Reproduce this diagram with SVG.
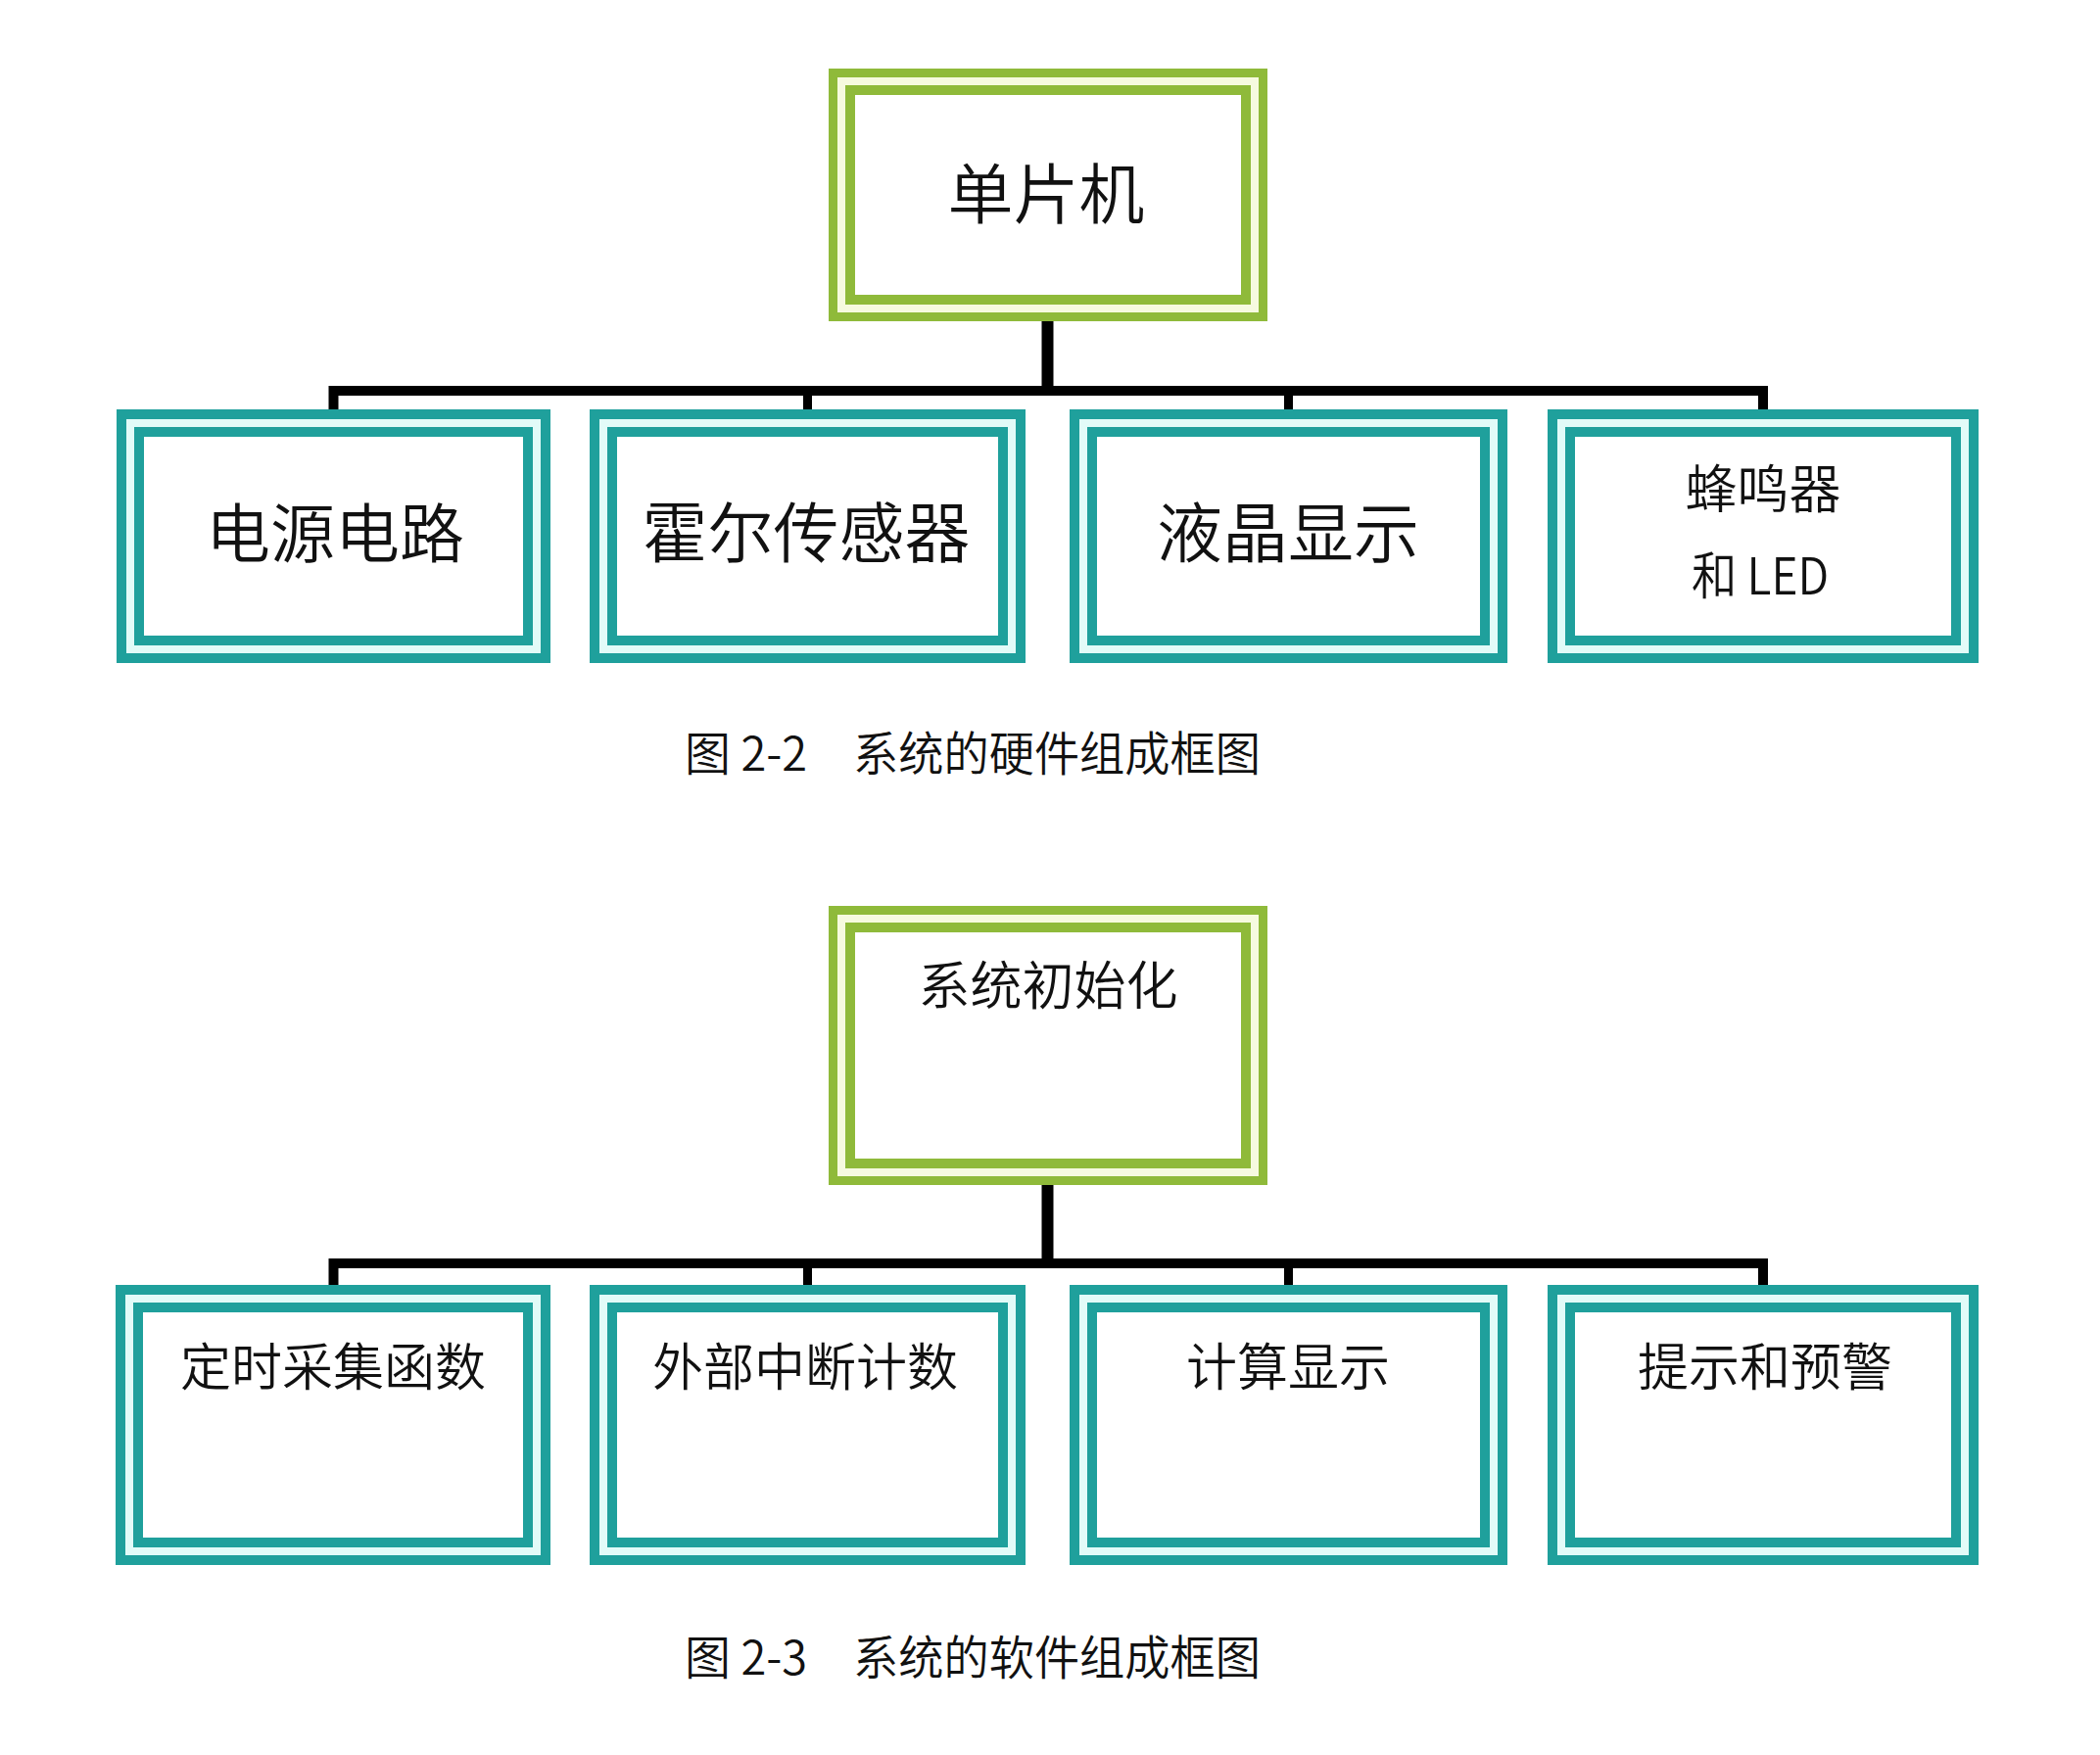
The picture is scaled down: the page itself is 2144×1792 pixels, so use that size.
<svg xmlns="http://www.w3.org/2000/svg" width="2144" height="1792" viewBox="0 0 2144 1792">
<style>
.g{fill:#8fba3a}
.gp{fill:#f6fadf}
.t{fill:#1fa09c}
.tp{fill:#e2fbf8}
.w{fill:#ffffff}
.lbl{font-family:"Noto Sans CJK SC","Noto Sans",sans-serif;font-weight:350;fill:#111;text-anchor:middle}
.cap{font-family:"Noto Sans CJK SC","Noto Sans",sans-serif;font-weight:350;fill:#111;font-size:48px}
.ln{stroke:#000;fill:none;stroke-linejoin:miter;stroke-linecap:butt}
</style>
<rect width="2144" height="1792" fill="#fff"/>

<g id="connectors">
  <line class="ln" x1="1069.5" y1="326" x2="1069.5" y2="400" stroke-width="12"/>
  <path class="ln" d="M340.5,420 V399 H1800 V420" stroke-width="10"/>
  <line class="ln" x1="824.5" y1="399" x2="824.5" y2="420" stroke-width="9"/>
  <line class="ln" x1="1315.5" y1="399" x2="1315.5" y2="420" stroke-width="9"/>

  <line class="ln" x1="1069.5" y1="1208" x2="1069.5" y2="1291" stroke-width="12"/>
  <path class="ln" d="M340.5,1314 V1290 H1800 V1314" stroke-width="10"/>
  <line class="ln" x1="824.5" y1="1290" x2="824.5" y2="1314" stroke-width="9"/>
  <line class="ln" x1="1315.5" y1="1290" x2="1315.5" y2="1314" stroke-width="9"/>
</g>

<g id="n-mcu">
  <rect class="g" x="846" y="70" width="448" height="258"/>
  <rect class="gp" x="855" y="79" width="430" height="240"/>
  <rect class="g" x="863" y="87" width="414" height="224"/>
  <rect class="w" x="873" y="97" width="394" height="204"/>
  <text class="lbl" x="1068" y="223" font-size="67">单片机</text>
</g>

<g id="n-power">
  <rect class="t" x="119" y="418" width="443" height="259"/>
  <rect class="tp" x="129" y="428" width="423" height="239"/>
  <rect class="t" x="137" y="436" width="407" height="223"/>
  <rect class="w" x="147" y="446" width="387" height="203"/>
  <text class="lbl" x="342" y="569" font-size="66">电源电路</text>
</g>

<g id="n-hall">
  <rect class="t" x="602" y="418" width="445" height="259"/>
  <rect class="tp" x="612" y="428" width="425" height="239"/>
  <rect class="t" x="620" y="436" width="409" height="223"/>
  <rect class="w" x="630" y="446" width="389" height="203"/>
  <text class="lbl" x="823" y="569" font-size="67">霍尔传感器</text>
</g>

<g id="n-lcd">
  <rect class="t" x="1092" y="418" width="447" height="259"/>
  <rect class="tp" x="1102" y="428" width="427" height="239"/>
  <rect class="t" x="1110" y="436" width="411" height="223"/>
  <rect class="w" x="1120" y="446" width="391" height="203"/>
  <text class="lbl" x="1315" y="569" font-size="67">液晶显示</text>
</g>

<g id="n-buzzer">
  <rect class="t" x="1580" y="418" width="440" height="259"/>
  <rect class="tp" x="1590" y="428" width="420" height="239"/>
  <rect class="t" x="1598" y="436" width="404" height="223"/>
  <rect class="w" x="1608" y="446" width="384" height="203"/>
  <text class="lbl" x="1800" y="519" font-size="53">蜂鸣器</text>
  <text class="lbl" x="1797" y="607" font-size="52" textLength="140" lengthAdjust="spacingAndGlyphs">和 LED</text>
</g>

<text id="cap1a" class="cap" x="699" y="787" textLength="125" lengthAdjust="spacingAndGlyphs">图 2-2</text>
<text id="cap1b" class="cap" x="871" y="787" textLength="416" lengthAdjust="spacingAndGlyphs">系统的硬件组成框图</text>

<g id="n-init">
  <rect class="g" x="846" y="925" width="448" height="285"/>
  <rect class="gp" x="855" y="934" width="430" height="267"/>
  <rect class="g" x="863" y="942" width="414" height="251"/>
  <rect class="w" x="873" y="952" width="394" height="231"/>
  <text class="lbl" x="1070" y="1026" font-size="53">系统初始化</text>
</g>

<g id="n-timer">
  <rect class="t" x="118" y="1312" width="444" height="286"/>
  <rect class="tp" x="128" y="1322" width="424" height="266"/>
  <rect class="t" x="136" y="1330" width="408" height="250"/>
  <rect class="w" x="146" y="1340" width="388" height="230"/>
  <text class="lbl" x="340" y="1415" font-size="52">定时采集函数</text>
</g>

<g id="n-extint">
  <rect class="t" x="602" y="1312" width="445" height="286"/>
  <rect class="tp" x="612" y="1322" width="425" height="266"/>
  <rect class="t" x="620" y="1330" width="409" height="250"/>
  <rect class="w" x="630" y="1340" width="389" height="230"/>
  <text class="lbl" x="822" y="1415" font-size="52">外部中断计数</text>
</g>

<g id="n-calc">
  <rect class="t" x="1092" y="1312" width="447" height="286"/>
  <rect class="tp" x="1102" y="1322" width="427" height="266"/>
  <rect class="t" x="1110" y="1330" width="411" height="250"/>
  <rect class="w" x="1120" y="1340" width="391" height="230"/>
  <text class="lbl" x="1315" y="1415" font-size="52">计算显示</text>
</g>

<g id="n-alarm">
  <rect class="t" x="1580" y="1312" width="440" height="286"/>
  <rect class="tp" x="1590" y="1322" width="420" height="266"/>
  <rect class="t" x="1598" y="1330" width="404" height="250"/>
  <rect class="w" x="1608" y="1340" width="384" height="230"/>
  <text class="lbl" x="1802" y="1415" font-size="52">提示和预警</text>
</g>

<text id="cap2a" class="cap" x="699" y="1710" textLength="125" lengthAdjust="spacingAndGlyphs">图 2-3</text>
<text id="cap2b" class="cap" x="871" y="1710" textLength="416" lengthAdjust="spacingAndGlyphs">系统的软件组成框图</text>
</svg>
